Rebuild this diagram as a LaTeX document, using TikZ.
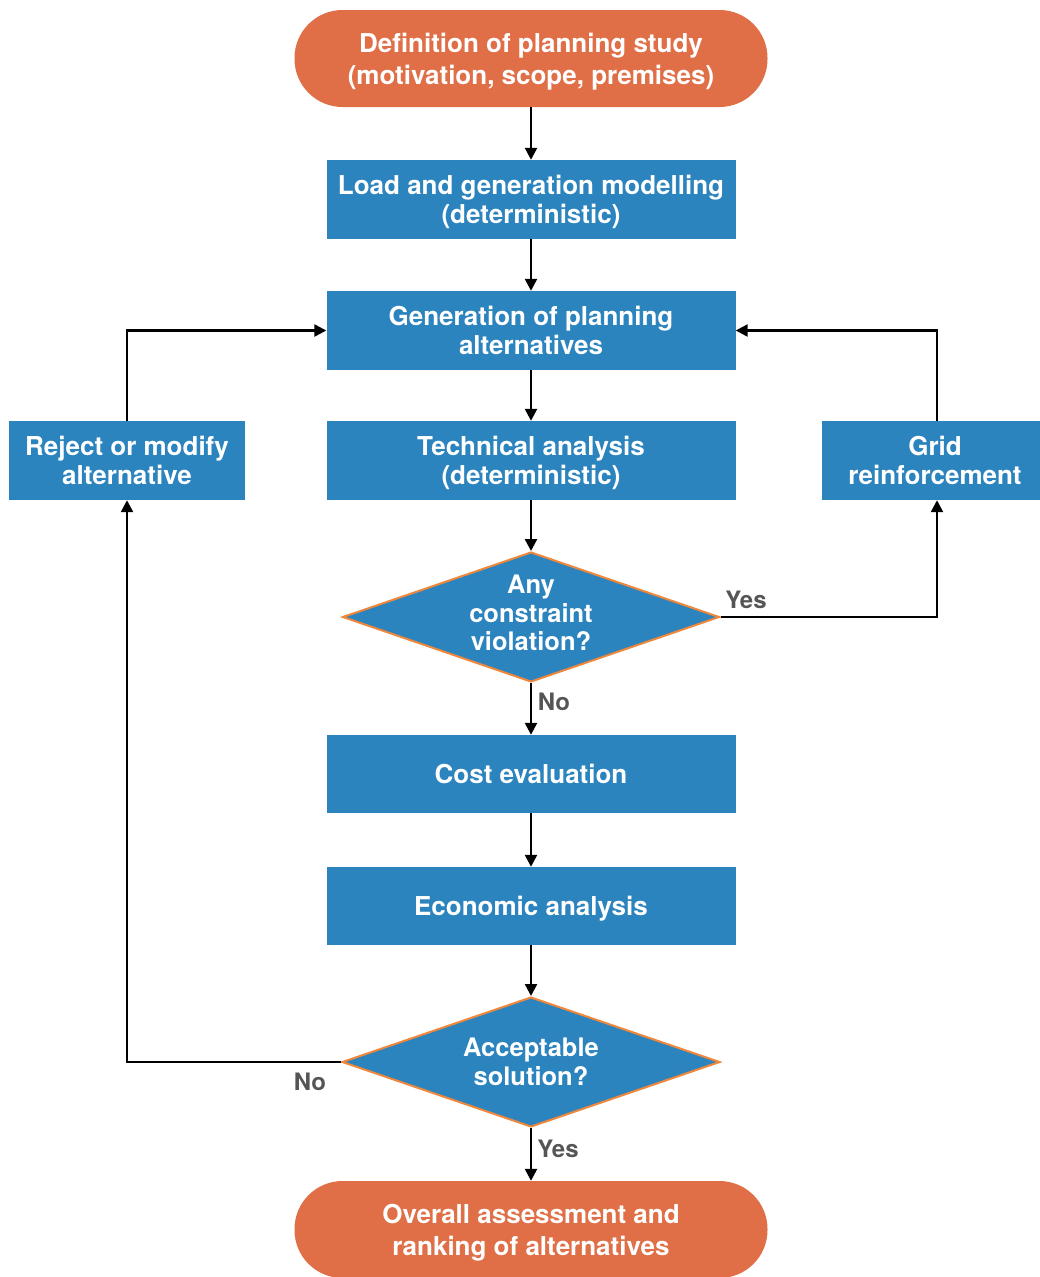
\documentclass[tikz,border=0pt]{standalone}
\usepackage{fontspec}
\setmainfont{TeX Gyre Heros}
\usetikzlibrary{shapes.geometric,arrows.meta}
\definecolor{termorange}{HTML}{E06F47}
\definecolor{boxblue}{HTML}{2B84BE}
\definecolor{diaedge}{HTML}{F0883C}
\definecolor{labelgray}{HTML}{555555}

\begin{document}
\begin{tikzpicture}[x=1pt,y=-1pt,
  every node/.style={text=white, inner sep=0pt},
  term/.style={fill=termorange, rounded corners=48pt, minimum width=473pt,
    minimum height=97pt, align=center, text depth=0pt,
    font=\fontsize{26}{32}\selectfont\bfseries},
  box/.style={fill=boxblue, minimum height=79pt, align=center, text depth=0pt,
    font=\fontsize{26}{29.5}\selectfont\bfseries},
  decision/.style={diamond, fill=boxblue, draw=diaedge, line width=2pt,
    aspect=2.9, minimum width=377pt, minimum height=130pt, inner sep=-14pt,
    align=center, font=\fontsize{25.5}{28.5}\selectfont\bfseries},
  flow/.style={draw=black, line width=2.4pt, -{Triangle[length=12pt,width=12pt]}},
  tag/.style={text=labelgray, font=\fontsize{24}{28}\selectfont\bfseries}]

\useasboundingbox (0,0) rectangle (1039,1277);

% main column
\node[term] (start) at (531,58.5) {Definition of planning study\\(motivation, scope, premises)};
\node[box, minimum width=409pt] (load) at (531,199.5) {Load and generation modelling\\(deterministic)};
\node[box, minimum width=409pt] (gen) at (531,330.5) {Generation of planning\\alternatives};
\node[box, minimum width=409pt] (tech) at (531,460.5) {Technical analysis\\(deterministic)};
\node[decision, text depth=8pt] (check) at (531,617) {Any\\constraint\\violation?};
\node[box, minimum width=409pt, minimum height=78pt] (cost) at (531,774) {Cost evaluation};
\node[box, minimum width=409pt, minimum height=78pt] (econ) at (531,906) {Economic analysis};
\node[decision, minimum width=378pt] (accept) at (531,1062) {Acceptable\\solution?};
\node[term] (finish) at (531,1229.5) {Overall assessment and\\ranking of alternatives};

% side boxes
\node[box, minimum width=236pt] (reject) at (127,460.5) {Reject or modify\\alternative};
\node[box, minimum width=226pt] (grid) at (935,460.5) {Grid\\reinforcement};

% connectors
\draw[flow] (start) -- (load);
\draw[flow] (load) -- (gen);
\draw[flow] (gen) -- (tech);
\draw[flow] (tech) -- (check.north);
\draw[flow] (check.south) -- (cost);
\draw[flow] (cost) -- (econ);
\draw[flow] (econ) -- (accept.north);
\draw[flow] (accept.south) -- (finish);
\draw[flow] (check.east) -| ([xshift=2pt]grid.south);
\draw[flow] ([xshift=2pt]grid.north) |- (gen.east);
\draw[flow] (reject.north) |- (gen.west);
\draw[flow] (accept.west) -| (reject.south);

% branch labels
\node[tag] (yesgrid) at (746,600) {Yes};
\node[tag] (nocheck) at (554,702) {No};
\node[tag] (noaccept) at (310,1082) {No};
\node[tag] (yesaccept) at (558,1149) {Yes};
\end{tikzpicture}
\end{document}
